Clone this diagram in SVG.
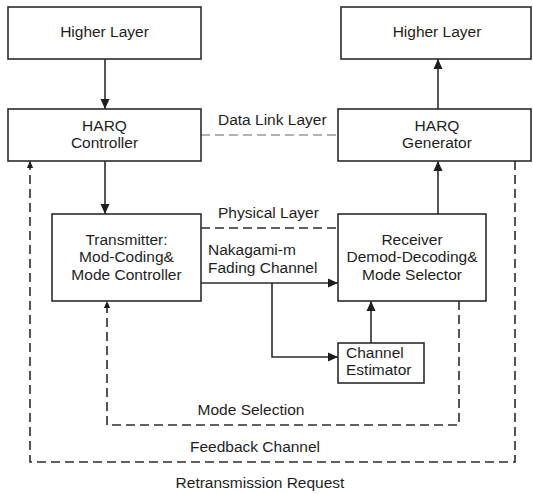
<svg xmlns="http://www.w3.org/2000/svg" width="533" height="494" viewBox="0 0 533 494">
  <style>
    .box { fill: #ffffff; stroke: #2b2b2b; stroke-width: 1.6; }
    .lbl { font-family: "Liberation Sans", Arial, sans-serif; font-size: 15.5px; fill: #1e1e1e; }
    .mid { text-anchor: middle; }
    .solid { fill: none; stroke: #2b2b2b; stroke-width: 1.6; }
    .dash { fill: none; stroke: #2b2b2b; stroke-width: 1.6; stroke-dasharray: 9 5; }
    .dash-light { fill: none; stroke: #9a9a9a; stroke-width: 1.4; stroke-dasharray: 9 5; }
  </style>
  <defs>
    <marker id="arrow" viewBox="0 0 10 10" refX="10" refY="5" markerWidth="10" markerHeight="10" markerUnits="userSpaceOnUse" orient="auto">
      <path d="M0,0.5 L10,5 L0,9.5 Z" fill="#1e1e1e"/>
    </marker>
    <marker id="arrow-small" viewBox="0 0 10 10" refX="10" refY="5" markerWidth="7" markerHeight="7" markerUnits="userSpaceOnUse" orient="auto">
      <path d="M0,0.5 L10,5 L0,9.5 Z" fill="#1e1e1e"/>
    </marker>
  </defs>

  <rect width="533" height="494" fill="#ffffff"/>

  <g id="connectors">
    <!-- layer separators -->
    <line class="dash-light" x1="201" y1="135" x2="338" y2="135"/>
    <line class="dash" x1="201" y1="228" x2="338" y2="228"/>
    <!-- downlink data path -->
    <line class="solid" x1="105" y1="59" x2="105" y2="109" marker-end="url(#arrow)"/>
    <line class="solid" x1="105" y1="161" x2="105" y2="214" marker-end="url(#arrow)"/>
    <line class="solid" x1="201" y1="283" x2="338" y2="283" marker-end="url(#arrow)"/>
    <polyline class="solid" points="272,283 272,357 338,357" marker-end="url(#arrow)"/>
    <line class="solid" x1="371" y1="343" x2="371" y2="301" marker-end="url(#arrow)"/>
    <line class="solid" x1="438" y1="214" x2="438" y2="161" marker-end="url(#arrow)"/>
    <line class="solid" x1="438" y1="109" x2="438" y2="59" marker-end="url(#arrow)"/>
    <!-- feedback loops -->
    <polyline class="dash" points="459,301 459,425 107,425 107,301" marker-end="url(#arrow-small)"/>
    <polyline class="dash" points="515,161 515,462 30,462 30,161" marker-end="url(#arrow-small)"/>
  </g>

  <g id="higher-layer-tx">
    <rect class="box" x="8" y="7" width="193" height="52"/>
    <text class="lbl mid" x="104.5" y="37">Higher Layer</text>
  </g>
  <g id="higher-layer-rx">
    <rect class="box" x="341" y="7" width="190" height="52"/>
    <text class="lbl mid" x="437" y="37">Higher Layer</text>
  </g>
  <g id="harq-controller">
    <rect class="box" x="8" y="109" width="193" height="52"/>
    <text class="lbl mid" x="104.5" y="131">HARQ</text>
    <text class="lbl mid" x="104.5" y="148">Controller</text>
  </g>
  <g id="harq-generator">
    <rect class="box" x="338" y="109" width="193" height="52"/>
    <text class="lbl mid" x="437" y="131">HARQ</text>
    <text class="lbl mid" x="437" y="148">Generator</text>
  </g>
  <g id="transmitter">
    <rect class="box" x="52" y="214" width="149" height="87"/>
    <text class="lbl mid" x="126.5" y="245">Transmitter:</text>
    <text class="lbl mid" x="126.5" y="262">Mod-Coding&amp;</text>
    <text class="lbl mid" x="126.5" y="280">Mode Controller</text>
  </g>
  <g id="receiver">
    <rect class="box" x="338" y="214" width="148" height="87"/>
    <text class="lbl mid" x="412" y="245">Receiver</text>
    <text class="lbl mid" x="412" y="262">Demod-Decoding&amp;</text>
    <text class="lbl mid" x="412" y="280">Mode Selector</text>
  </g>
  <g id="channel-estimator">
    <rect class="box" x="338" y="343" width="86" height="40"/>
    <text class="lbl" x="346" y="358">Channel</text>
    <text class="lbl" x="346" y="375">Estimator</text>
  </g>

  <g id="labels">
    <text class="lbl" x="218" y="125">Data Link Layer</text>
    <text class="lbl" x="218" y="218">Physical Layer</text>
    <text class="lbl" x="208" y="255">Nakagami-m</text>
    <text class="lbl" x="208" y="273">Fading Channel</text>
    <text class="lbl mid" x="251" y="415">Mode Selection</text>
    <text class="lbl mid" x="255" y="452">Feedback Channel</text>
    <text class="lbl mid" x="260" y="488">Retransmission Request</text>
  </g>
</svg>
